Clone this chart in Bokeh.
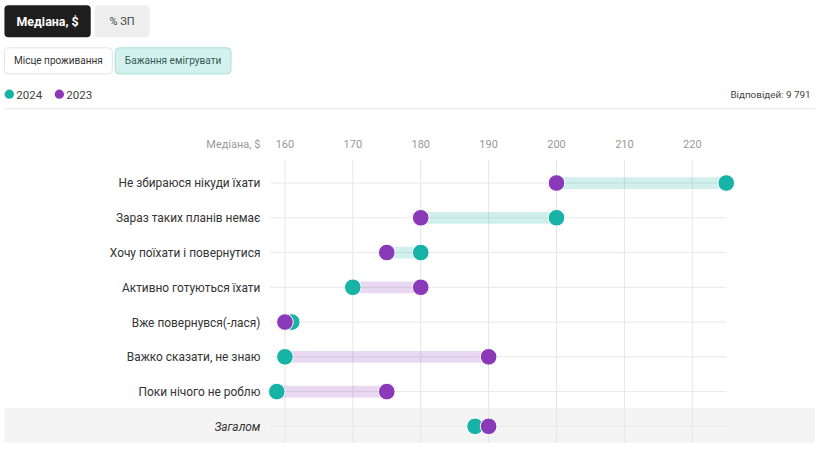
from bokeh.plotting import figure
from bokeh.models import Range1d, BoxAnnotation
from bokeh.embed import file_html
from bokeh.resources import INLINE
from bokeh.core.properties import value

categories = ["Не збираюся нікуди їхати", "Зараз таких планів немає", "Хочу поїхати і повернутися",
              "Активно готуються їхати", "Вже повернувся(-лася)", "Важко сказати, не знаю",
              "Поки нічого не роблю", "Загалом"]
v2024 = [225, 200, 180, 170, 161, 160, 158.8, 188]
v2023 = [200, 180, 175, 180, 160, 190, 175, 190]
ticks = [160, 170, 180, 190, 200, 210, 220]
series_names = ["2024", "2023"]

TEAL = "#17b3a6"
PURPLE = "#8a3ab9"
FONT = value("Roboto")

W, H = 819, 450
RW, RH = 835, 466          # reference layout size
PX0, PXU = 290.0, 6.922    # layout-x of 160 and pixels per unit
RY0, RYU = 189.0, 36.0     # layout-y of first row and row step
S = W / RW                 # size scale


def X(px):
    return 160 + (px - PX0) / PXU


def Y(py):
    return (py - RY0) / RYU


def fs(v):
    return "%.1fpx" % (v * S)


p = figure(width=W, height=H, output_backend="svg", toolbar_location=None,
           x_range=Range1d(X(0), X(RW)), y_range=Range1d(Y(RH), Y(0)),
           min_border=0, outline_line_color=None)
p.axis.visible = False
p.grid.visible = False
p.background_fill_color = "white"
p.border_fill_color = "white"

rows = list(range(len(categories)))


def box(l, t, r, b, fill, line=None, radius=0, level="underlay"):
    p.add_layout(BoxAnnotation(left=X(l), right=X(r), top=Y(t), bottom=Y(b),
                               fill_color=fill, fill_alpha=1,
                               line_color=line, line_alpha=1 if line else 0, line_width=1,
                               border_radius=radius, level=level))


def txt(px, py, s, size=12, color="#333", align="left", style="normal"):
    p.text(x=[X(px)], y=[Y(py)], text=[s], text_font=FONT, text_font_size=fs(size),
           text_color=color, text_align=align, text_baseline="middle", text_font_style=style)


# --- top controls ---
box(4, 5, 92, 38, "#1e1e1e", radius=4)
txt(48, 22, "Медіана, $", 12.6, "white", "center", "bold")
box(96, 5, 152, 38, "#eeeeee", radius=4)
txt(124, 22, "% ЗП", 11.2, "#444", "center")
box(4, 49, 114, 76, "white", "#e3e3e3", radius=4)
txt(59, 62.5, "Місце проживання", 10.2, "#333", "center")
box(117, 49, 235, 76, "#d3f2ee", "#a5e0d8", radius=4)
txt(176, 62.5, "Бажання емігрувати", 10.3, "#355a56", "center")

# legend
p.scatter(x=[X(9), X(60)], y=[Y(97), Y(97)], size=9.5 * S, fill_color=[TEAL, PURPLE], line_color=None)
txt(16, 97.5, series_names[0], 11.8, "#444")
txt(67, 97.5, series_names[1], 11.8, "#444")
txt(826, 97.5, "Відповідей: 9 791", 10.1, "#444", "right")
p.segment(x0=[X(4)], x1=[X(830)], y0=[Y(112)], y1=[Y(112)], line_color="#e6e6e6", line_width=1)

# total band
box(4, 422, 830, 458, "#f4f4f4")

# grid
p.segment(x0=ticks, x1=ticks, y0=[Y(165)] * len(ticks), y1=[Y(458)] * len(ticks),
          line_color="#e6e6e6", line_width=1)
p.segment(x0=[X(275)] * len(rows), x1=[X(740)] * len(rows), y0=rows, y1=rows,
          line_color="#e8e8e8", line_width=1)

# tick labels
p.text(x=ticks, y=[Y(149)] * len(ticks), text=[str(t) for t in ticks], text_font=FONT,
       text_font_size=fs(11.2), text_color="#999", text_align="center", text_baseline="middle")
txt(265, 149, "Медіана, $", 11.2, "#999", "right")

# category labels
for i, c in enumerate(categories):
    italic = (i == len(categories) - 1)
    txt(265, RY0 + RYU * i + 0.5, c, 12.1, "#333", "right", "italic" if italic else "normal")

# bars
bar_colors = [TEAL if a > b else PURPLE for a, b in zip(v2024, v2023)]
p.segment(x0=v2023, x1=v2024, y0=rows, y1=rows, line_color=bar_colors, line_alpha=0.2,
          line_width=12 * S)

# dots
p.scatter(x=v2024, y=rows, size=17 * S, fill_color=TEAL, line_color="white", line_width=1)
p.scatter(x=v2023, y=rows, size=17 * S, fill_color=PURPLE, line_color="white", line_width=1)

open("out.html", "w").write(file_html(p, INLINE))
